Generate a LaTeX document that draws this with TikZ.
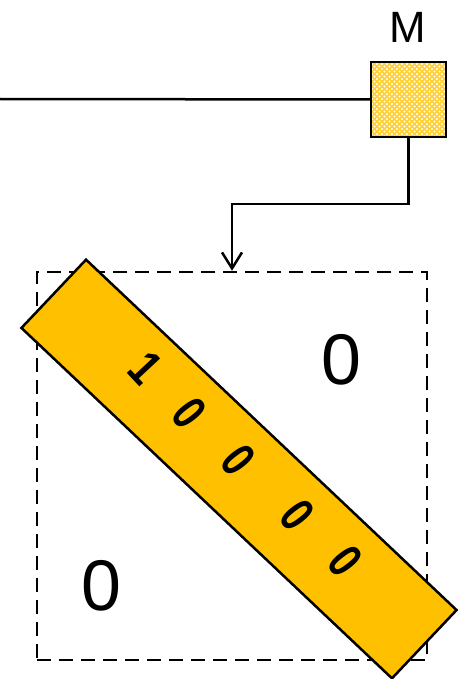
\documentclass[tikz,border=0pt]{standalone}
\usepackage{fontspec}
\setmainfont{Liberation Sans}
\usetikzlibrary{arrows.meta,patterns}
\definecolor{gold}{RGB}{255,192,0}
\definecolor{mfillc}{RGB}{255,208,50}
\pgfdeclarepatternformonly{mydots}{\pgfpoint{0bp}{0bp}}{\pgfpoint{5.4bp}{5.4bp}}{\pgfpoint{5.4bp}{5.4bp}}{%
  \pgfpathcircle{\pgfpoint{0bp}{0bp}}{1.2bp}%
  \pgfpathcircle{\pgfpoint{5.4bp}{0bp}}{1.2bp}%
  \pgfpathcircle{\pgfpoint{0bp}{5.4bp}}{1.2bp}%
  \pgfpathcircle{\pgfpoint{5.4bp}{5.4bp}}{1.2bp}%
  \pgfpathcircle{\pgfpoint{2.7bp}{2.7bp}}{1.2bp}%
  \pgfusepath{fill}}
\begin{document}
\begin{tikzpicture}[x=1bp,y=-1bp,
  conn/.style={draw=black,line width=2.5bp},
  bigtxt/.style={font=\fontsize{72}{80}\selectfont},
  digit/.style={font=\fontsize{50}{56}\selectfont\bfseries,rotate=-52,inner sep=0pt}]
\useasboundingbox (0,0) rectangle (458,679);
% dashed square
\node[draw,dash pattern=on 14bp off 8bp,line width=2.5bp,minimum width=390bp,minimum height=388bp,inner sep=0pt] (sq) at (232,466) {};
% band
\node[draw,fill=gold,line width=2.5bp,minimum width=510bp,minimum height=94bp,inner sep=0pt,rotate=-43.4] (band) at (239,469) {};
% digits on band
\node[digit,rotate=5] (d1) at (146,368) {\scalebox{0.8}[1]{1}};
\node[digit] (d2) at (189,413) {\scalebox{0.75}[1]{0}};
\node[digit] (d3) at (238,460) {\scalebox{0.75}[1]{0}};
\node[digit] (d4) at (297,515) {\scalebox{0.75}[1]{0}};
\node[digit] (d5) at (345,561) {\scalebox{0.75}[1]{0}};
% big zeros
\node[bigtxt,inner sep=0pt] (z1) at (341,360) {0};
\node[bigtxt,inner sep=0pt] (z2) at (101,586) {0};
% M box
\node[fill=mfillc,minimum width=75bp,minimum height=75bp,inner sep=0pt] (mfill) at (408.5,99.5) {};
\node[draw,line width=2.5bp,pattern=mydots,pattern color=white,minimum width=75bp,minimum height=75bp,inner sep=0pt] (mbox) at (408.5,99.5) {};
\node[font=\fontsize{44}{50}\selectfont,inner sep=0pt] (mlabel) at (408,27) {M};
% connectors
\coordinate (lin) at (0,99);
\draw[conn] (lin) -- (mbox.west);
\coordinate (bend) at (408.5,204);
\draw[conn,-{Straight Barb[length=16bp,width=20bp,line width=2.5bp]}] (mbox.south) -- (bend) -| (sq.north);
\end{tikzpicture}
\end{document}
